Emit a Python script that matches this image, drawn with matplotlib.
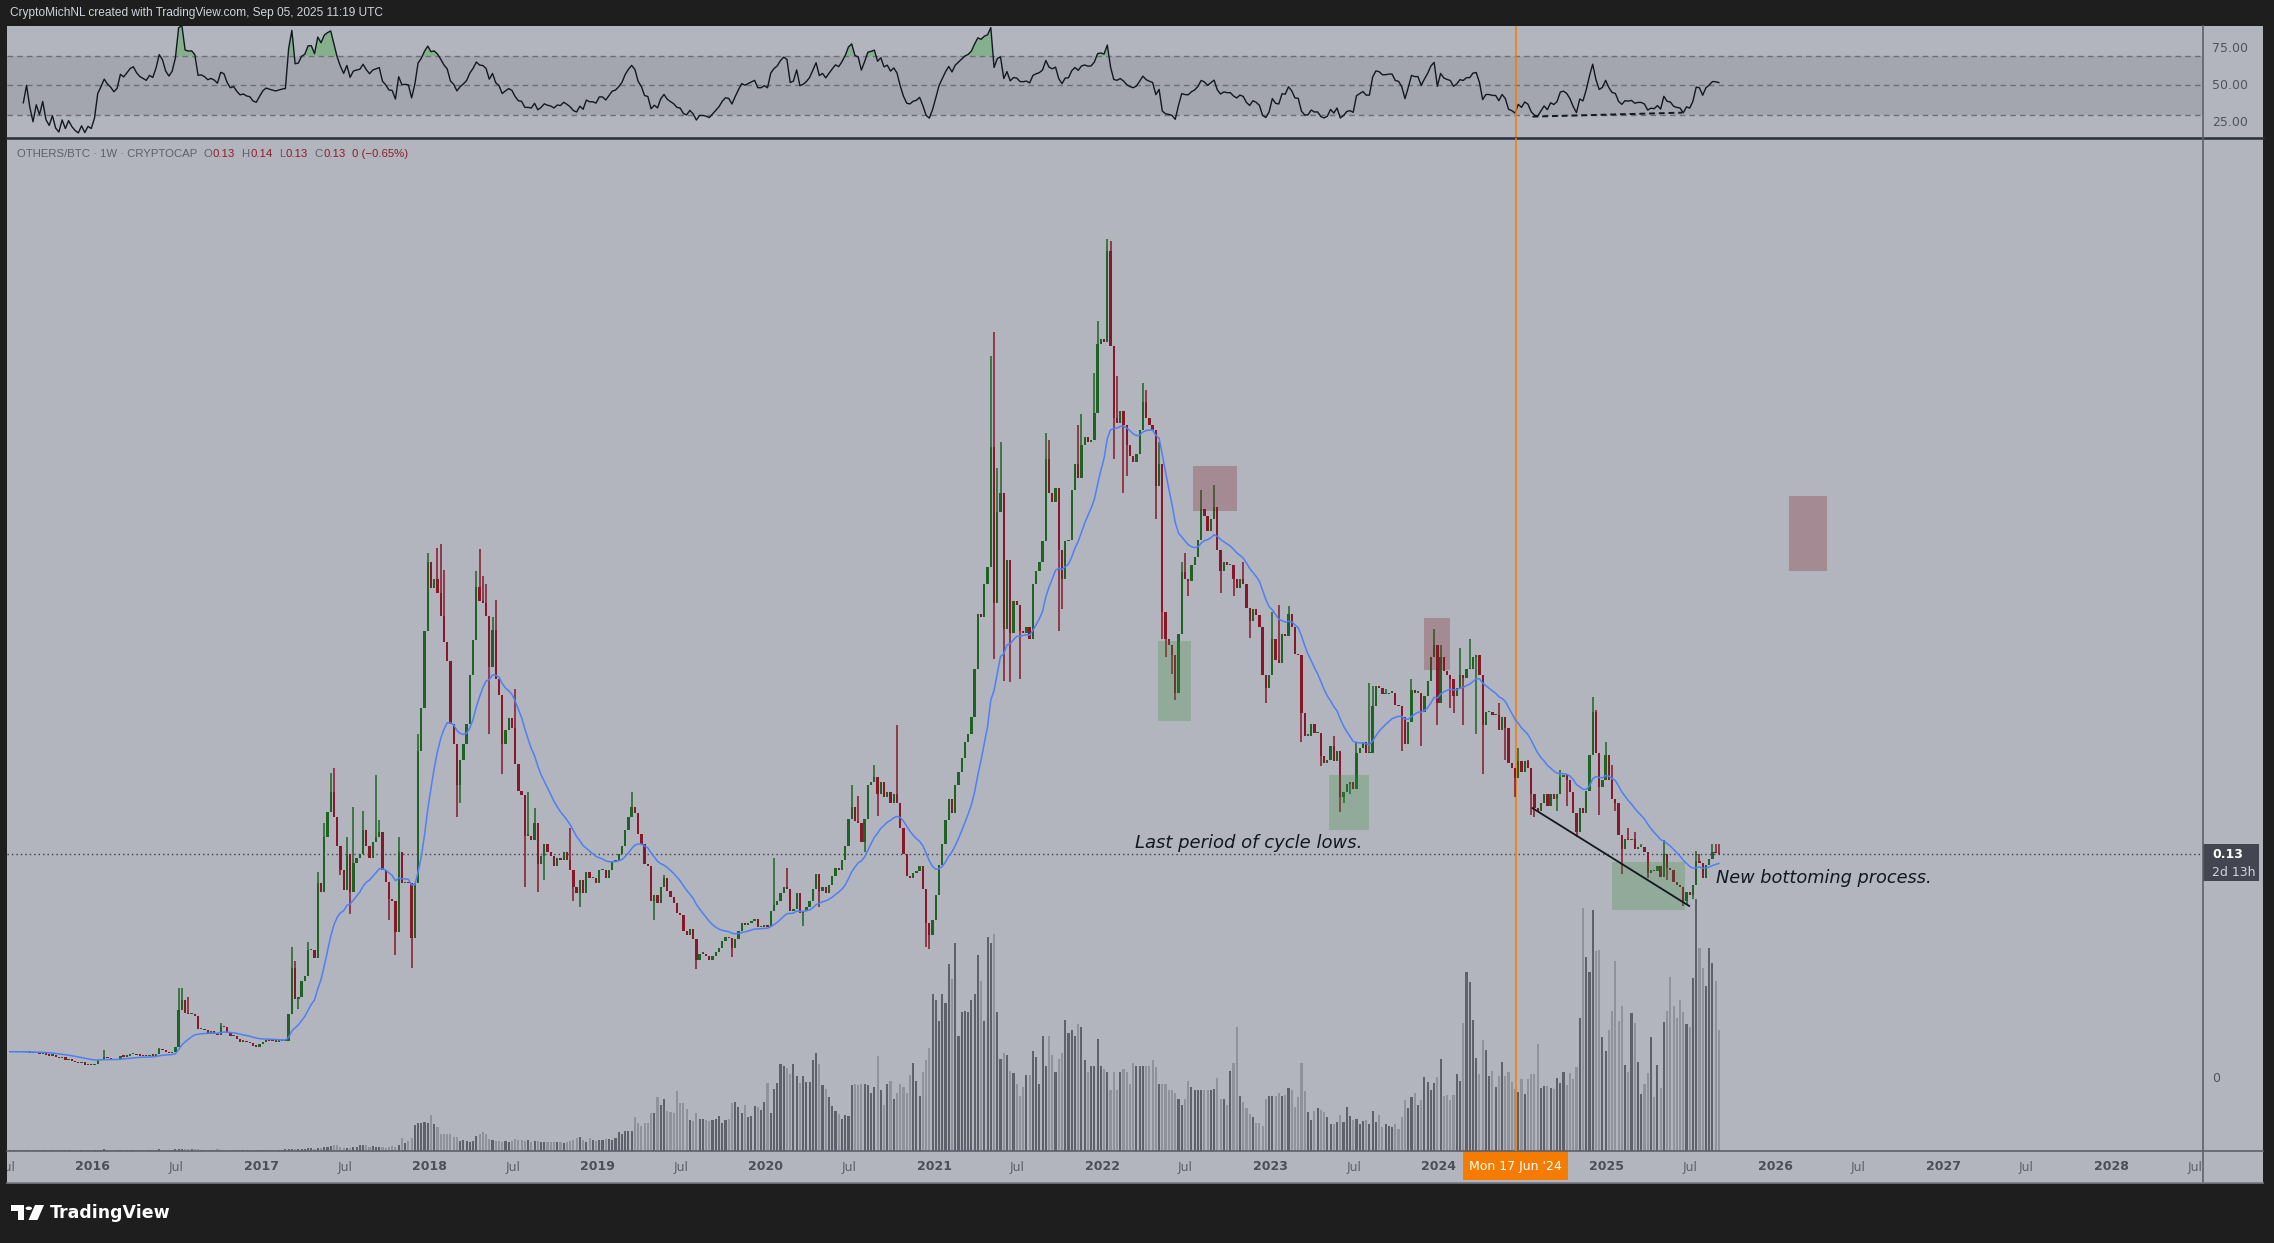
import numpy as np
import pandas as pd
import matplotlib
matplotlib.use("Agg")
import matplotlib.pyplot as plt
import matplotlib.dates as mdates
from matplotlib.lines import Line2D
from matplotlib.patches import Rectangle, Polygon, Circle

# OTHERS/BTC weekly candles, first week Mon 6 Jul 2015, last week Mon 1 Sep 2025
start_date = "2015-07-06"
end_date = "2025-09-01"

close_2015 = [0.0150, 0.0152, 0.0149, 0.0151, 0.0148, 0.0150, 0.0146, 0.0141, 0.0144, 0.0140,
              0.0143, 0.0133, 0.0128, 0.0131, 0.0118, 0.0112, 0.0117, 0.0104, 0.0108, 0.0098,
              0.0090, 0.0084, 0.0088, 0.0072, 0.0076, 0.0071, 0.0078]
close_2016 = [0.0100, 0.0108, 0.0118, 0.0112, 0.0108, 0.0102, 0.0106, 0.0125, 0.0122, 0.0128,
              0.0135, 0.0138, 0.0132, 0.0128, 0.0126, 0.0124, 0.0130, 0.0128, 0.0140, 0.0165,
              0.0160, 0.0148, 0.0142, 0.0150, 0.0178, 0.0395, 0.0450, 0.0374, 0.0370, 0.0372,
              0.0360, 0.0280, 0.0282, 0.0275, 0.0262, 0.0268, 0.0262, 0.0250, 0.0300, 0.0295,
              0.0262, 0.0240, 0.0245, 0.0225, 0.0210, 0.0213, 0.0205, 0.0202, 0.0185, 0.0180,
              0.0195]
close_2017 = [0.0210, 0.0218, 0.0215, 0.0212, 0.0210, 0.0212, 0.0214, 0.0215, 0.0370, 0.0636,
              0.0460, 0.0470, 0.0560, 0.0590, 0.0743, 0.0745, 0.0695, 0.1130, 0.1080, 0.1400,
              0.1547, 0.1660, 0.1517, 0.1345, 0.1208, 0.1090, 0.1300, 0.1080, 0.1250, 0.1280,
              0.1300, 0.1440, 0.1350, 0.1280, 0.1370, 0.1400, 0.1430, 0.1208, 0.1140, 0.1040,
              0.1030, 0.0850, 0.1310, 0.1130, 0.1140, 0.1130, 0.0810, 0.1130, 0.1900, 0.2150,
              0.2600, 0.3000]
close_2018 = [0.2850, 0.2900, 0.2820, 0.2688, 0.2534, 0.2427, 0.2059, 0.1941, 0.1704, 0.1846,
              0.1941, 0.2059, 0.2345, 0.2546, 0.2854, 0.2771, 0.2759, 0.2688, 0.2392, 0.2605,
              0.2321, 0.2226, 0.1941, 0.2024, 0.2095, 0.2036, 0.1823, 0.1669, 0.1645, 0.1408,
              0.1408, 0.1384, 0.1479, 0.1242, 0.1289, 0.1360, 0.1313, 0.1289, 0.1230, 0.1277,
              0.1265, 0.1313, 0.1265, 0.1206, 0.1111, 0.1076, 0.1147, 0.1076, 0.1194, 0.1159,
              0.1159, 0.1135]
close_2019 = [0.1206, 0.1206, 0.1159, 0.1206, 0.1254, 0.1265, 0.1301, 0.1348, 0.1443, 0.1515,
              0.1574, 0.1538, 0.1420, 0.1360, 0.1242, 0.1230, 0.1028, 0.1064, 0.1017, 0.1111,
              0.1159, 0.1088, 0.1050, 0.1017, 0.0958, 0.0946, 0.0851, 0.0827, 0.0863, 0.0804,
              0.0685, 0.0721, 0.0721, 0.0709, 0.0685, 0.0709, 0.0733, 0.0756, 0.0792, 0.0816,
              0.0810, 0.0756, 0.0804, 0.0851, 0.0899, 0.0887, 0.0899, 0.0911, 0.0922, 0.0875,
              0.0875, 0.0887]
close_2020 = [0.0875, 0.0970, 0.1005, 0.1028, 0.1076, 0.1111, 0.1100, 0.0970, 0.0981, 0.1076,
              0.0958, 0.0970, 0.0993, 0.1028, 0.1100, 0.1183, 0.1088, 0.1111, 0.1076, 0.1123,
              0.1171, 0.1218, 0.1206, 0.1265, 0.1348, 0.1503, 0.1574, 0.1491, 0.1479, 0.1372,
              0.1503, 0.1700, 0.1720, 0.1750, 0.1650, 0.1720, 0.1630, 0.1660, 0.1600, 0.1650,
              0.1600, 0.1450, 0.1300, 0.1175, 0.1160, 0.1190, 0.1200, 0.1230, 0.1100, 0.0900,
              0.0830, 0.0920]
close_2021 = [0.1060, 0.1240, 0.1360, 0.1500, 0.1620, 0.1540, 0.1700, 0.1780, 0.1860, 0.1950,
              0.2000, 0.2100, 0.2375, 0.2700, 0.2680, 0.2870, 0.2970, 0.3670, 0.2760, 0.3290,
              0.3400, 0.2610, 0.3010, 0.2585, 0.2775, 0.2750, 0.2600, 0.2590, 0.2620, 0.2550,
              0.2870, 0.2950, 0.3000, 0.3120, 0.3600, 0.3400, 0.3350, 0.3430, 0.3070, 0.2900,
              0.3120, 0.3130, 0.3420, 0.3570, 0.3490, 0.3680, 0.3730, 0.3700, 0.3710, 0.3865,
              0.4270, 0.4300]
close_2022 = [0.4280, 0.4810, 0.4258, 0.3840, 0.3810, 0.3880, 0.3800, 0.3680, 0.3615, 0.3580,
              0.3630, 0.3770, 0.3930, 0.3840, 0.3800, 0.3770, 0.3440, 0.3570, 0.2710, 0.2550,
              0.2515, 0.2460, 0.2236, 0.2584, 0.2940, 0.2900, 0.2890, 0.2980, 0.3030, 0.3130,
              0.3310, 0.3270, 0.3180, 0.3250, 0.3320, 0.3070, 0.2950, 0.3000, 0.2980, 0.2980,
              0.2900, 0.2850, 0.2900, 0.2870, 0.2730, 0.2655, 0.2725, 0.2690, 0.2620, 0.2340,
              0.2270, 0.2345]
close_2023 = [0.2550, 0.2430, 0.2412, 0.2580, 0.2570, 0.2700, 0.2620, 0.2467, 0.2460, 0.2120,
              0.1990, 0.1990, 0.2060, 0.2005, 0.2005, 0.1870, 0.1830, 0.1850, 0.1930, 0.1840,
              0.1900, 0.1630, 0.1660, 0.1710, 0.1720, 0.1680, 0.1890, 0.1920, 0.1950, 0.1890,
              0.1890, 0.2160, 0.2280, 0.2270, 0.2230, 0.2230, 0.2240, 0.2240, 0.2170, 0.2160,
              0.2100, 0.1940, 0.2072, 0.2255, 0.2240, 0.2240, 0.2130, 0.2220, 0.2310, 0.2446,
              0.2520, 0.2178]
close_2024 = [0.2446, 0.2366, 0.2340, 0.2322, 0.2221, 0.2265, 0.2340, 0.2327, 0.2375, 0.2375,
              0.2450, 0.2460, 0.2340, 0.2053, 0.2126, 0.2126, 0.2110, 0.2110, 0.2025, 0.2097,
              0.2033, 0.1830, 0.1800, 0.1746, 0.1840, 0.1780, 0.1840, 0.1800, 0.1650, 0.1570,
              0.1550, 0.1600, 0.1650, 0.1580, 0.1650, 0.1620, 0.1650, 0.1750, 0.1760, 0.1730,
              0.1660, 0.1540, 0.1430, 0.1570, 0.1540, 0.1670, 0.1880, 0.2130, 0.1890, 0.1690,
              0.1730, 0.1875]
close_2025 = [0.1730, 0.1620, 0.1600, 0.1410, 0.1331, 0.1390, 0.1380, 0.1390, 0.1330, 0.1340,
              0.1340, 0.1310, 0.1190, 0.1210, 0.1200, 0.1230, 0.1170, 0.1300, 0.1220, 0.1210,
              0.1140, 0.1120, 0.1110, 0.1030, 0.1080, 0.1060, 0.1120, 0.1260, 0.1250, 0.1160,
              0.1240, 0.1270, 0.1310, 0.1308, 0.1300]

# weekly volume (relative units, 100 ~ tallest bars)
vol_2015 = [0.5, 0.4, 0.5, 0.4, 0.4, 0.5, 0.4, 0.4, 0.5, 0.4, 0.4, 0.5, 0.5, 0.4, 0.5, 0.5, 0.4,
            0.5, 0.4, 0.4, 0.5, 0.4, 0.4, 0.4, 0.5, 0.4, 0.4]
vol_2016 = [0.5, 0.5, 0.6, 0.5, 0.4, 0.4, 0.5, 0.5, 0.4, 0.5, 0.5, 0.4, 0.5, 0.4, 0.4, 0.5, 0.4,
            0.5, 0.5, 0.6, 0.5, 0.5, 0.4, 0.5, 0.6, 0.9, 0.8, 0.7, 0.6, 0.6, 0.6, 0.6, 0.5, 0.5,
            0.5, 0.5, 0.5, 0.6, 0.5, 0.5, 0.5, 0.5, 0.5, 0.5, 0.4, 0.4, 0.5, 0.4, 0.4, 0.5, 0.5]
vol_2017 = [0.5, 0.5, 0.5, 0.5, 0.5, 0.5, 0.5, 0.6, 0.7, 0.8, 0.7, 0.6, 0.7, 0.8, 1.0, 1.0, 0.9,
            1.2, 1.0, 1.5, 1.7, 1.9, 2.3, 2.2, 1.5, 1.2, 1.2, 1.0, 1.5, 1.7, 2.2, 2.3, 2.2, 1.7,
            1.9, 1.5, 1.7, 1.5, 1.2, 1.5, 1.9, 1.7, 2.3, 4.9, 2.9, 3.9, 4.9, 10.0, 10.9, 10.6,
            11.0, 10.9]
vol_2018 = [13.7, 10.4, 9.1, 6.5, 6.5, 6.5, 6.6, 5.4, 5.4, 3.8, 4.2, 3.8, 3.4, 3.8, 5.8, 6.6,
            7.3, 6.6, 4.5, 4.2, 3.8, 3.8, 3.4, 3.8, 3.5, 3.8, 4.5, 4.2, 4.2, 3.8, 4.2, 3.4, 3.8,
            3.8, 3.4, 3.4, 3.4, 3.4, 3.4, 3.4, 3.4, 3.2, 3.5, 3.8, 4.2, 5.0, 5.4, 4.2, 3.4, 5.0,
            4.2, 3.8]
vol_2019 = [4.2, 4.2, 4.5, 4.5, 4.2, 5.0, 7.3, 6.6, 7.6, 7.6, 7.6, 12.9, 10.6, 9.8, 10.9, 10.9,
            14.5, 14.5, 20.8, 17.7, 20.0, 15.3, 15.0, 14.5, 23.1, 18.4, 18.4, 16.1, 11.8, 11.4,
            14.5, 12.5, 12.2, 11.8, 11.4, 11.8, 12.5, 13.4, 10.9, 11.8, 12.2, 18.4, 18.8, 16.9,
            14.5, 17.7, 12.9, 13.4, 17.2, 16.9, 15.6, 18.8]
vol_2020 = [26.3, 14.5, 23.9, 26.3, 33.4, 32.6, 31.9, 29.5, 33.4, 28.7, 26.3, 28.7, 26.6, 26.6,
            35.0, 37.6, 33.4, 25.5, 23.9, 20.8, 17.2, 15.3, 14.1, 12.2, 13.7, 13.4, 25.5, 25.8,
            25.5, 25.8, 25.8, 25.5, 22.3, 24.7, 36.4, 23.5, 17.8, 25.8, 27.0, 20.1, 22.4, 25.8,
            24.7, 22.4, 29.3, 33.9, 27.0, 21.2, 30.5, 35.1, 39.7, 60.4]
vol_2021 = [58.1, 50.1, 60.4, 57.0, 72.0, 66.2, 80.0, 44.3, 53.5, 54.0, 53.5, 58.1, 60.4, 75.4,
            65.5, 50.1, 82.3, 80.0, 83.5, 53.5, 35.5, 37.8, 36.9, 30.9, 30.0, 25.8, 21.2, 24.7,
            29.3, 29.3, 38.5, 36.2, 25.8, 44.3, 32.8, 44.3, 36.9, 30.5, 35.5, 37.8, 50.5, 45.4,
            46.6, 44.3, 48.9, 47.7, 35.1, 30.5, 32.8, 32.8, 43.1, 32.8]
vol_2022 = [31.6, 30.5, 23.5, 30.5, 23.5, 30.5, 31.6, 30.5, 25.8, 33.9, 32.8, 32.8, 32.8, 32.8,
            32.8, 35.1, 32.3, 25.8, 25.8, 25.8, 23.5, 23.5, 22.4, 20.1, 17.8, 20.1, 27.0, 24.7,
            23.5, 23.5, 23.5, 23.5, 23.5, 23.5, 24.0, 28.2, 20.1, 20.1, 17.8, 30.9, 33.9, 47.7,
            21.2, 19.0, 16.6, 14.3, 13.2, 10.9, 10.9, 9.7, 20.1, 21.2]
vol_2023 = [21.2, 21.2, 22.4, 21.0, 21.6, 24.4, 23.5, 16.8, 20.6, 34.0, 22.9, 14.9, 12.0, 15.3,
            16.4, 15.9, 14.9, 13.0, 10.2, 10.2, 11.1, 14.0, 11.1, 16.8, 13.4, 12.0, 12.4, 10.2,
            11.5, 12.0, 10.2, 15.3, 11.1, 14.0, 9.2, 10.2, 9.8, 9.2, 10.2, 8.3, 13.0, 19.7, 16.4,
            20.6, 22.2, 17.8, 19.7, 28.3, 26.4, 23.5, 26.0, 28.3]
vol_2024 = [35.4, 21.0, 21.6, 19.7, 21.6, 29.6, 26.8, 49.3, 68.8, 65.0, 50.3, 35.6, 29.6, 42.6,
            38.8, 28.7, 30.6, 24.8, 28.9, 34.4, 28.7, 30.3, 26.4, 23.8, 22.7, 27.7, 21.8, 27.7,
            29.7, 29.7, 41.0, 24.4, 25.1, 25.1, 24.4, 23.8, 28.0, 26.1, 30.3, 25.4, 30.1, 27.7,
            32.4, 51.0, 93.6, 74.8, 68.8, 92.7, 77.0, 77.5, 43.7, 38.6]
vol_2025 = [46.6, 54.0, 73.1, 49.9, 55.6, 33.1, 30.3, 53.0, 49.3, 34.4, 22.1, 25.8, 30.1, 43.9,
            20.9, 33.1, 24.4, 49.6, 54.0, 67.1, 55.9, 51.3, 57.9, 53.6, 49.0, 47.7, 66.5, 96.9,
            77.9, 70.2, 63.3, 78.2, 72.2, 65.2, 46.6]

# long wicks (week index -> price)
wick_high = {29: 0.0160, 46: 0.0175, 52: 0.0520, 53: 0.0520, 55: 0.0470, 65: 0.0320,
             87: 0.0762, 88: 0.0680, 92: 0.0790, 95: 0.1198, 97: 0.1480, 99: 0.1770,
             100: 0.1800, 104: 0.1400, 106: 0.1577, 109: 0.1550, 113: 0.1760, 114: 0.1500,
             120: 0.1400, 126: 0.2000, 129: 0.3050, 132: 0.3080, 133: 0.3103, 134: 0.2952,
             144: 0.2950, 145: 0.3078, 146: 0.2920, 147: 0.2870, 149: 0.2680, 150: 0.2780,
             156: 0.2260, 160: 0.1660, 162: 0.1570, 173: 0.1450, 192: 0.1660, 202: 0.1180,
             236: 0.1280, 240: 0.1220, 260: 0.1700, 262: 0.1640, 267: 0.1820, 274: 0.2050,
             303: 0.4200, 304: 0.4340, 305: 0.3550, 306: 0.3700, 320: 0.3750, 321: 0.3710,
             330: 0.3800, 331: 0.3860, 335: 0.4100, 336: 0.4400, 339: 0.4880, 340: 0.4870,
             342: 0.4080, 350: 0.4040, 351: 0.4000, 355: 0.3700, 362: 0.3000, 363: 0.3050,
             368: 0.3420, 372: 0.3450, 381: 0.3000, 390: 0.2710, 392: 0.2750, 395: 0.2742,
             400: 0.2050, 409: 0.1990, 416: 0.1950, 420: 0.2296, 421: 0.2280, 425: 0.2260,
             433: 0.2322, 440: 0.2610, 442: 0.2520, 448: 0.2500, 451: 0.2550, 460: 0.2180,
             466: 0.1920, 469: 0.1850, 479: 0.1790, 489: 0.2216, 490: 0.2140, 493: 0.1950,
             495: 0.1820, 500: 0.1450, 502: 0.1430, 504: 0.1360, 511: 0.1380, 521: 0.1320,
             522: 0.1300, 526: 0.1360, 527: 0.1360, 528: 0.1360}
wick_low = {89: 0.0400, 102: 0.1180, 105: 0.0950, 117: 0.0920, 119: 0.0713, 124: 0.0636,
            138: 0.1515, 139: 0.1600, 148: 0.2000, 152: 0.1767, 159: 0.1111, 163: 0.1080,
            165: 0.1150, 174: 0.1030, 176: 0.0990, 199: 0.0920, 212: 0.0632, 223: 0.0700,
            245: 0.0880, 250: 0.0990, 264: 0.1310, 268: 0.1520, 283: 0.0760, 284: 0.0747,
            304: 0.2433, 307: 0.2310, 309: 0.2300, 312: 0.2317, 324: 0.2600, 325: 0.2724,
            341: 0.3600, 344: 0.3400, 345: 0.3500, 354: 0.3250, 356: 0.2550, 357: 0.2450,
            359: 0.2350, 360: 0.2200, 364: 0.2800, 374: 0.2820, 378: 0.2800, 383: 0.2560,
            388: 0.2180, 399: 0.1950, 405: 0.1816, 411: 0.1544, 412: 0.1600, 414: 0.1650,
            430: 0.1902, 436: 0.1930, 441: 0.2050, 445: 0.2150, 446: 0.2120, 449: 0.2050,
            453: 0.2000, 455: 0.1764, 462: 0.1850, 465: 0.1632, 470: 0.1530, 471: 0.1516,
            478: 0.1550, 481: 0.1580, 484: 0.1400, 485: 0.1480, 491: 0.1530, 496: 0.1550,
            498: 0.1184, 506: 0.1160, 512: 0.1150, 517: 0.0998, 518: 0.1010, 520: 0.1040,
            524: 0.1160}

# drawings: (start candle, end candle, low price, high price)
green_zones = [(354.6, 365.0, 0.2075, 0.2541), (407.4, 420.0, 0.1440, 0.1758),
               (495.1, 517.5, 0.0977, 0.1255)]
red_zones = [(365.4, 379.0, 0.3299, 0.3561), (437.0, 444.8, 0.2372, 0.2676),
             (549.7, 561.4, 0.2948, 0.3384)]
trend_weeks = [470.4, 518.8]
trend_prices = [0.1568, 0.0999]
rsi_div_weeks = [470.4, 516.7]
rsi_div_values = [28.9, 31.6]
marker_date = "2024-06-17"

close = np.array(close_2015 + close_2016 + close_2017 + close_2018 + close_2019 + close_2020
                 + close_2021 + close_2022 + close_2023 + close_2024 + close_2025)
volume = np.array(vol_2015 + vol_2016 + vol_2017 + vol_2018 + vol_2019 + vol_2020
                  + vol_2021 + vol_2022 + vol_2023 + vol_2024 + vol_2025)
n = min(len(close), len(volume))
close, volume = close[:n], volume[:n]

dates = pd.date_range(start_date, end_date, periods=n)
xd = mdates.date2num(dates)
d0 = xd[0]
step = (xd[-1] - xd[0]) / (n - 1)


def wk(w):
    return d0 + step * np.asarray(w)


opn = np.r_[close[0], close[:-1]]
high = np.maximum(opn, close)
low = np.minimum(opn, close)
for k, v in wick_high.items():
    if k < n:
        high[k] = max(high[k], v)
for k, v in wick_low.items():
    if k < n:
        low[k] = min(low[k], v)
rising = close >= opn

ema = pd.Series(close).ewm(span=20, adjust=False).mean().values
delta = pd.Series(close).diff()
gain = delta.clip(lower=0).ewm(alpha=1 / 14, adjust=True, min_periods=4).mean()
loss = (-delta.clip(upper=0)).ewm(alpha=1 / 14, adjust=True, min_periods=4).mean()
rsi = (100 - 100 / (1 + gain / loss)).values

# ---------------- layout ----------------
W, H = 2274, 1243
BG = "#b2b5be"
DARK = "#1e1e1e"
GREEN = "#1f6324"
RED = "#86182a"
SANS = ["Liberation Sans", "DejaVu Sans"]

# time scale of the reference: 1 Jan 2016 at x=92.8 px, 3.2236 px per week
d2016 = mdates.date2num(pd.Timestamp("2016-01-01"))


def px_x(px):
    return d2016 + (px - 92.8) / 3.2236 * 7


def px_y(py):
    return (1077.6 - py) / 1718.5


fig = plt.figure(figsize=(W / 100, H / 100), dpi=100, facecolor=DARK)


def rect(x0, y0, x1, y1):
    return [x0 / W, 1 - y1 / H, (x1 - x0) / W, (y1 - y0) / H]


def fline(x0, y0, x1, y1, **kw):
    fig.add_artist(Line2D([x0 / W, x1 / W], [1 - y0 / H, 1 - y1 / H],
                          transform=fig.transFigure, **kw))


fig.patches.append(Rectangle((7 / W, 1 - 1183 / H), 2256 / W, 1157 / H,
                             transform=fig.transFigure, facecolor=BG, edgecolor="none", zorder=-5))

x_left, x_right = px_x(7), px_x(2203)

ax_rsi = fig.add_axes(rect(7, 26, 2203, 137))
ax_vol = fig.add_axes(rect(7, 138, 2203, 1151))
ax = fig.add_axes(rect(7, 138, 2203, 1151))
ax_time = fig.add_axes(rect(7, 1151, 2203, 1183))
ax_px = fig.add_axes(rect(2203, 26, 2263, 1183))
for a in (ax_rsi, ax_vol, ax, ax_time, ax_px):
    a.set_facecolor("none")
    a.axis("off")
for a in (ax_rsi, ax_vol, ax, ax_time):
    a.set_xlim(x_left, x_right)
ax_vol.set_zorder(1)
ax.set_zorder(2)
ax_rsi.set_zorder(1)
ax_time.set_zorder(1)
ax_px.set_zorder(1)

# ---- RSI pane ----
ax_rsi.set_ylim(15.1, 90.3)
ax_rsi.axhspan(30, 70, color="#a3a6af", lw=0, zorder=0)
for lvl in (70, 50, 30):
    ax_rsi.axhline(lvl, color="#6b6e78", lw=1, ls=(0, (4, 3)), zorder=1)
ax_rsi.fill_between(xd, rsi, 70, where=rsi > 70, interpolate=True, color="#5fae64", alpha=0.55, lw=0, zorder=2)
ax_rsi.plot(xd, rsi, color="#131722", lw=1.0, zorder=3)
ax_rsi.plot(wk(rsi_div_weeks), rsi_div_values, color="#131722", lw=1.4, ls=(0, (3, 2)), zorder=4)
marker_x = mdates.date2num(pd.Timestamp(marker_date))
ax_rsi.axvline(marker_x, color="#f57c00", lw=1.1, zorder=4)

# ---- volume ----
ax_vol.set_ylim(0, 1013 / 2.6)
ax_vol.bar(xd, volume, width=4.6, color=np.where(rising, "#5e616b", "#8f929b"), lw=0)

# ---- price ----
ax.set_ylim(-0.04271, 0.54676)
body_low = np.minimum(opn, close)
body_h = np.maximum(np.abs(close - opn), 0.0007)
colors = np.where(rising, GREEN, RED)
ax.vlines(xd, low, high, colors=colors, lw=1.1, zorder=3)
ax.bar(xd, body_h, bottom=body_low, width=5.0, color=colors, lw=0, zorder=4)
ax.plot(xd, ema, color="#4f7ff5", lw=1.1, zorder=5)
ax.axhline(close[-1], color="#3b3e48", lw=1, ls=(0, (1, 2.2)), zorder=2)
ax.axvline(marker_x, color="#f57c00", lw=1.1, zorder=2)
for w0, w1, p0, p1 in green_zones:
    ax.add_patch(Rectangle((wk(w0), p0), wk(w1) - wk(w0), p1 - p0,
                           facecolor="#388e3c", alpha=0.27, lw=0, zorder=6))
for w0, w1, p0, p1 in red_zones:
    ax.add_patch(Rectangle((wk(w0), p0), wk(w1) - wk(w0), p1 - p0,
                           facecolor="#801922", alpha=0.27, lw=0, zorder=6))
ax.plot(wk(trend_weeks), trend_prices, color="#131722", lw=1.3, zorder=7)

ax.text(px_x(1135), px_y(843), "Last period of cycle lows.", fontsize=13, style="italic",
        color="#131722", ha="left", va="center", zorder=8)
ax.text(px_x(1716), px_y(878), "New bottoming process.", fontsize=12.8, style="italic",
        color="#131722", ha="left", va="center", zorder=8)

# ---- time axis ----
ax_time.set_ylim(0, 1)
for yr in range(2015, 2029):
    if yr >= 2016:
        ax_time.text(mdates.date2num(pd.Timestamp(f"{yr}-01-01")), 0.5, str(yr), ha="center",
                     va="center", fontsize=9, fontweight="bold", color="#4c4f5a", clip_on=True)
    if yr != 2024:  # hidden under the crosshair date label
        ax_time.text(mdates.date2num(pd.Timestamp(f"{yr}-07-01")), 0.5, "Jul", ha="center",
                     va="center", fontsize=9, color="#5f626d", clip_on=True)
ax_time.add_patch(Rectangle((marker_x - 114, 0.08), 228, 0.92, facecolor="#f57c00", lw=0, zorder=5))
ax_time.text(marker_x, 0.52, "Mon 17 Jun '24", ha="center", va="center", fontsize=9,
             color="white", zorder=6)

# ---- price axis ----
ax_px.set_xlim(0, 60)
ax_px.set_ylim(1183, 26)
for lab, yy in (("75.00", 48.6), ("50.00", 85.5), ("25.00", 122.4), ("0", 1079)):
    ax_px.text(9, yy, lab, fontsize=9, color="#50535e", ha="left", va="center")
ax_px.add_patch(Rectangle((0, 844), 55.5, 37, facecolor="#434651", lw=0))
ax_px.text(9, 855, "0.13", fontsize=9, fontweight="bold", color="white", ha="left", va="center")
ax_px.text(9, 872, "2d 13h", fontsize=9, color="#d1d4dc", ha="left", va="center")

# ---- frame lines ----
fline(7, 137.5, 2263, 137.5, color="#2a2e39", lw=1.8)
fline(2203, 26, 2203, 1183, color="#5d606b", lw=1.2)
fline(7, 1151, 2263, 1151, color="#5d606b", lw=1.2)
fline(7, 1182.5, 2263, 1182.5, color="#787b86", lw=1.2)

# ---- header / legend ----
fig.text(10 / W, 1 - 13 / H, "CryptoMichNL created with TradingView.com, Sep 05, 2025 11:19 UTC",
         fontsize=8.6, family=SANS, color="#d1d4dc", ha="left", va="center")

prev = fig.text(17 / W, 1 - 159 / H, "OTHERS/BTC \u00b7 1W \u00b7 CRYPTOCAP", fontsize=8.2,
                family=SANS, color="#5d606b", ha="left", va="bottom")
legend_parts = [("O", "#5d606b", 4.5), ("0.13", "#8f1d27", 0.5), ("H", "#5d606b", 4.5),
                ("0.14", "#8f1d27", 0.5), ("L", "#5d606b", 4.5), ("0.13", "#8f1d27", 0.5),
                ("C", "#5d606b", 4.5), ("0.13", "#8f1d27", 0.5), ("0 (\u22120.65%)", "#8f1d27", 4.5)]
for s, c, gap in legend_parts:
    prev = ax.annotate(s, xy=(1, 0), xycoords=prev, xytext=(gap, 0), textcoords="offset points",
                       fontsize=8.2, family=SANS, color=c, ha="left", va="bottom",
                       annotation_clip=False)


# ---- TradingView logo ----
def fpoly(pts, **kw):
    fig.patches.append(Polygon([(x / W, 1 - y / H) for x, y in pts], closed=True,
                               transform=fig.transFigure, **kw))


fpoly([(11, 1205), (24, 1205), (24, 1220), (18, 1220), (18, 1211), (11, 1211)], facecolor="white", lw=0)
fig.patches.append(Circle((28.8 / W, 1 - 1208.3 / H), 3.2 / W, transform=fig.transFigure,
                          facecolor="white", lw=0))
fpoly([(35, 1205), (44, 1205), (37.5, 1220), (28.5, 1220)], facecolor="white", lw=0)
fig.text(50 / W, 1 - 1213 / H, "TradingView", fontsize=12.5, fontweight="bold",
         color="white", ha="left", va="center")

fig.savefig("out.png", dpi=100, facecolor=DARK)
